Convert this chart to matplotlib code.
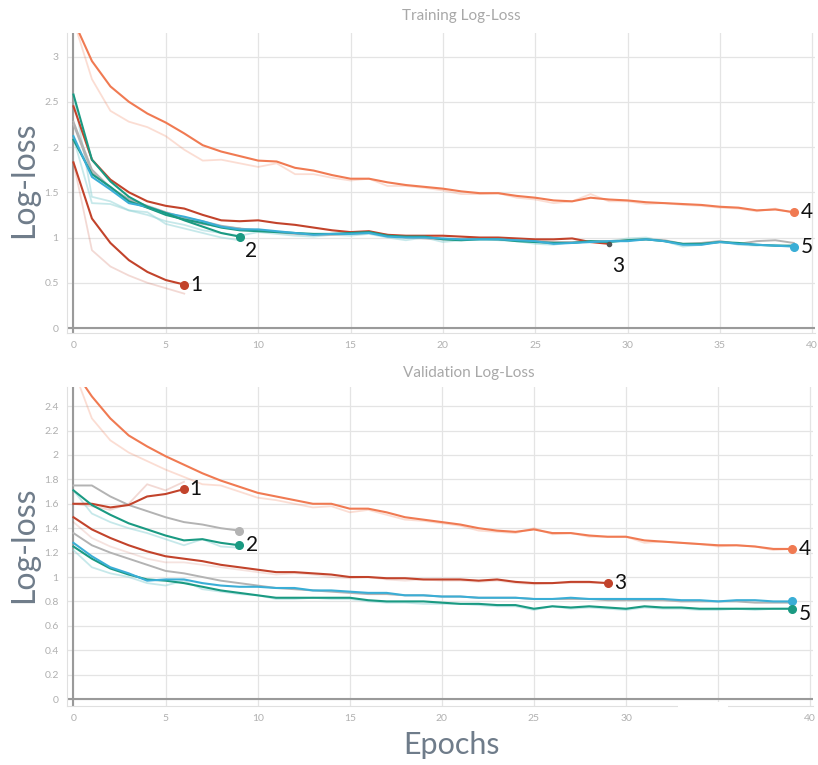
import numpy as np
import matplotlib
matplotlib.use("Agg")
import matplotlib.pyplot as plt
from matplotlib.patches import Rectangle

plt.rcParams['font.family'] = ['Lato', 'DejaVu Sans']

# ---- training log-loss (top panel) ----
t_run1 = [1.83, 1.21, 0.94, 0.75, 0.62, 0.53, 0.48]
t_run1_raw = [1.83, 0.86, 0.68, 0.58, 0.50, 0.44, 0.38]
t_run2_teal = [2.58, 1.86, 1.62, 1.45, 1.34, 1.27, 1.19, 1.12, 1.05, 1.01]
t_run2_gray = [2.28, 1.75, 1.55, 1.42, 1.33, 1.26, 1.20, 1.15, 1.12, 1.10]
t_run2_raw = [2.58, 1.45, 1.40, 1.30, 1.28, 1.15, 1.10, 1.05, 1.00, 0.97]
t_run3 = [2.45, 1.86, 1.64, 1.50, 1.40, 1.35, 1.32, 1.25, 1.19, 1.18,
          1.19, 1.16, 1.14, 1.11, 1.08, 1.06, 1.07, 1.03, 1.02, 1.02,
          1.02, 1.01, 1.00, 1.00, 0.99, 0.98, 0.98, 0.99, 0.95, 0.93]
t_run4 = [3.40, 2.95, 2.67, 2.50, 2.37, 2.27, 2.15, 2.02, 1.95, 1.90,
          1.85, 1.84, 1.77, 1.74, 1.69, 1.65, 1.65, 1.61, 1.58, 1.56,
          1.54, 1.51, 1.49, 1.49, 1.46, 1.44, 1.41, 1.40, 1.44, 1.42,
          1.41, 1.39, 1.38, 1.37, 1.36, 1.34, 1.33, 1.30, 1.31, 1.28]
t_run4_raw = [3.40, 2.75, 2.40, 2.28, 2.22, 2.12, 1.97, 1.85, 1.86, 1.82,
              1.78, 1.82, 1.70, 1.70, 1.66, 1.63, 1.65, 1.57, 1.57, 1.55,
              1.52, 1.48, 1.48, 1.49, 1.44, 1.42, 1.38, 1.40, 1.48, 1.40,
              1.40, 1.37, 1.38, 1.36, 1.35, 1.33, 1.32, 1.29, 1.32, 1.27]
t_run5_blue = [2.12, 1.67, 1.53, 1.38, 1.34, 1.27, 1.23, 1.18, 1.12, 1.09,
               1.09, 1.07, 1.05, 1.03, 1.04, 1.04, 1.05, 1.01, 1.00, 1.00,
               0.99, 0.98, 0.98, 0.98, 0.97, 0.96, 0.93, 0.94, 0.95, 0.96,
               0.96, 0.98, 0.96, 0.92, 0.92, 0.95, 0.93, 0.92, 0.91, 0.90]
t_run5_teal = [2.08, 1.70, 1.56, 1.40, 1.33, 1.25, 1.20, 1.16, 1.11, 1.08,
               1.07, 1.06, 1.05, 1.04, 1.04, 1.05, 1.06, 1.02, 1.01, 1.01,
               0.98, 0.97, 0.98, 0.98, 0.96, 0.95, 0.94, 0.94, 0.96, 0.95,
               0.97, 0.98, 0.96, 0.93, 0.93, 0.95, 0.94, 0.92, 0.91, 0.91]
t_run5_gray = [2.25, 1.72, 1.55, 1.42, 1.35, 1.28, 1.22, 1.18, 1.13, 1.10,
               1.08, 1.06, 1.04, 1.03, 1.03, 1.04, 1.05, 1.03, 1.00, 0.99,
               0.98, 0.98, 0.99, 0.98, 0.97, 0.96, 0.95, 0.95, 0.96, 0.96,
               0.97, 0.98, 0.97, 0.93, 0.94, 0.96, 0.93, 0.96, 0.97, 0.94]
t_run5_raw = [2.10, 1.38, 1.37, 1.30, 1.25, 1.18, 1.14, 1.08, 1.05, 1.02,
              1.06, 1.04, 1.02, 1.01, 1.03, 1.02, 1.04, 1.00, 0.97, 1.00,
              0.95, 0.97, 0.99, 0.97, 0.96, 0.93, 0.92, 0.95, 0.96, 0.96,
              0.99, 1.00, 0.96, 0.90, 0.92, 0.96, 0.92, 0.91, 0.92, 0.90]

# ---- validation log-loss (bottom panel) ----
v_run1 = [1.60, 1.60, 1.57, 1.59, 1.66, 1.68, 1.72]
v_run1_raw = [1.60, 1.58, 1.55, 1.60, 1.76, 1.71, 1.78]
v_run2_gray = [1.75, 1.75, 1.66, 1.59, 1.54, 1.49, 1.45, 1.43, 1.40, 1.38]
v_run2_teal = [1.71, 1.59, 1.51, 1.44, 1.39, 1.34, 1.30, 1.31, 1.28, 1.26]
v_run2_raw = [1.71, 1.52, 1.45, 1.40, 1.36, 1.31, 1.26, 1.31, 1.25, 1.24]
v_run3 = [1.49, 1.39, 1.32, 1.26, 1.21, 1.17, 1.15, 1.13, 1.10, 1.08,
          1.06, 1.04, 1.04, 1.03, 1.02, 1.00, 1.00, 0.99, 0.99, 0.98,
          0.98, 0.98, 0.97, 0.98, 0.96, 0.95, 0.95, 0.96, 0.96, 0.95]
v_run3_raw = [1.45, 1.32, 1.25, 1.20, 1.15, 1.12, 1.12, 1.10, 1.08, 1.06,
              1.04, 1.02, 1.03, 1.02, 1.00, 0.99, 1.00, 0.98, 0.97, 0.98,
              0.97, 0.97, 0.96, 0.97, 0.95, 0.94, 0.95, 0.95, 0.95, 0.95]
v_run4 = [2.70, 2.48, 2.30, 2.16, 2.07, 1.99, 1.92, 1.85, 1.79, 1.74,
          1.69, 1.66, 1.63, 1.60, 1.60, 1.56, 1.56, 1.53, 1.49, 1.47,
          1.45, 1.43, 1.40, 1.38, 1.37, 1.39, 1.36, 1.36, 1.34, 1.33,
          1.33, 1.30, 1.29, 1.28, 1.27, 1.26, 1.26, 1.25, 1.23, 1.23]
v_run4_raw = [2.70, 2.30, 2.12, 2.02, 1.95, 1.88, 1.82, 1.76, 1.75, 1.70,
              1.65, 1.63, 1.60, 1.57, 1.58, 1.53, 1.55, 1.51, 1.47, 1.46,
              1.44, 1.42, 1.38, 1.37, 1.36, 1.40, 1.35, 1.36, 1.33, 1.33,
              1.33, 1.28, 1.29, 1.28, 1.27, 1.25, 1.26, 1.25, 1.22, 1.23]
v_run5_gray = [1.36, 1.26, 1.20, 1.15, 1.10, 1.05, 1.03, 1.00, 0.97, 0.95,
               0.93, 0.91, 0.90, 0.89, 0.88, 0.87, 0.86, 0.86, 0.85, 0.85,
               0.84, 0.84, 0.83, 0.83, 0.83, 0.82, 0.82, 0.82, 0.82, 0.81,
               0.81, 0.81, 0.81, 0.80, 0.80, 0.80, 0.80, 0.79, 0.79, 0.79]
v_run5_blue = [1.28, 1.17, 1.08, 1.03, 0.97, 0.98, 0.98, 0.95, 0.93, 0.92,
               0.92, 0.91, 0.91, 0.89, 0.89, 0.88, 0.87, 0.87, 0.85, 0.85,
               0.84, 0.84, 0.83, 0.83, 0.83, 0.82, 0.82, 0.83, 0.82, 0.82,
               0.82, 0.82, 0.82, 0.81, 0.81, 0.80, 0.81, 0.81, 0.80, 0.80]
v_run5_teal = [1.25, 1.15, 1.07, 1.02, 0.98, 0.97, 0.95, 0.92, 0.89, 0.87,
               0.85, 0.83, 0.83, 0.83, 0.83, 0.83, 0.81, 0.80, 0.80, 0.80,
               0.79, 0.78, 0.78, 0.77, 0.77, 0.74, 0.76, 0.75, 0.76, 0.75,
               0.74, 0.76, 0.75, 0.75, 0.74, 0.74, 0.74, 0.74, 0.74, 0.74]
v_run5_raw = [1.22, 1.08, 1.03, 1.00, 0.95, 0.93, 0.97, 0.90, 0.88, 0.86,
              0.85, 0.82, 0.82, 0.83, 0.82, 0.82, 0.80, 0.79, 0.79, 0.78,
              0.78, 0.78, 0.77, 0.76, 0.76, 0.73, 0.76, 0.74, 0.75, 0.74,
              0.73, 0.75, 0.74, 0.74, 0.73, 0.73, 0.74, 0.73, 0.74, 0.74]

ORANGE = "#f07a52"
DARKRED = "#c2432b"
TEAL = "#1a9a82"
BLUE = "#3aaed6"
GRAY = "#b3b3b3"
CYAN_RAW = "#8fd3d6"


def line(ax, y, color, lw=1.5, alpha=1.0, z=3):
    ax.plot(np.arange(len(y)), y, color=color, lw=lw, alpha=alpha, zorder=z,
            solid_joinstyle='round')


def end_label(ax, y, color, text, dx, dy):
    x = len(y) - 1
    ax.plot(x, y[-1], 'o', color=color, ms=5.5, zorder=6)
    ax.annotate(text, (x, y[-1]), xytext=(dx, dy), textcoords='offset points',
                fontsize=15, color='#111111', va='center', ha='left',
                annotation_clip=False, zorder=7)


def style(ax, ylim, yticks):
    ax.set_xlim(-0.35, 40.15)
    ax.set_ylim(*ylim)
    ax.set_xticks(range(0, 41, 5))
    ax.set_yticks(yticks)
    ax.set_yticklabels(['%g' % v for v in yticks])
    ax.grid(True, color='#e4e4e4', lw=0.9)
    ax.set_axisbelow(True)
    for s in ax.spines.values():
        s.set_visible(False)
    ax.spines['left'].set_visible(True)
    ax.spines['bottom'].set_visible(True)
    ax.spines['left'].set_color('#e0e0e0')
    ax.spines['bottom'].set_color('#e0e0e0')
    ax.axvline(0, color='#9a9a9a', lw=1.5, zorder=2)
    ax.axhline(0, color='#9a9a9a', lw=1.5, zorder=2)
    ax.tick_params(length=0, labelsize=7.5, labelcolor='#b0b0b0', pad=6)


fig = plt.figure(figsize=(8.18, 7.65), dpi=100)
ax1 = fig.add_axes([67 / 818, 1 - 333 / 765, 748 / 818, 300 / 765])
ax2 = fig.add_axes([67 / 818, 1 - 706 / 765, 746 / 818, 319 / 765])

# top panel
style(ax1, (-0.055, 3.26), [0, 0.5, 1, 1.5, 2, 2.5, 3])
line(ax1, t_run4_raw, ORANGE, lw=1.3, alpha=0.25, z=2)
line(ax1, t_run1_raw, DARKRED, lw=1.3, alpha=0.2, z=2)
line(ax1, t_run2_raw, CYAN_RAW, lw=1.3, alpha=0.5, z=2)
line(ax1, t_run5_raw, CYAN_RAW, lw=1.3, alpha=0.5, z=2)
line(ax1, t_run5_gray, GRAY, lw=1.4)
line(ax1, t_run2_gray, GRAY, lw=1.4)
line(ax1, t_run3, DARKRED)
line(ax1, t_run4, ORANGE)
line(ax1, t_run1, DARKRED)
line(ax1, t_run5_teal, TEAL)
line(ax1, t_run5_blue, BLUE)
line(ax1, t_run2_teal, TEAL)
end_label(ax1, t_run1, DARKRED, '1', 4, 0)
end_label(ax1, t_run2_teal, TEAL, '2', 4, -10)
ax1.plot(len(t_run3) - 1, t_run3[-1], 'o', color='#555555', ms=3, zorder=6)
ax1.annotate('3', (len(t_run3) - 1, t_run3[-1]), xytext=(2, -16),
             textcoords='offset points', fontsize=15, color='#111111',
             va='center', ha='left', annotation_clip=False)
end_label(ax1, t_run4, ORANGE, '4', 5, 0)
end_label(ax1, t_run5_blue, BLUE, '5', 5, 0)

# bottom panel
style(ax2, (-0.057, 2.557), [0, 0.2, 0.4, 0.6, 0.8, 1, 1.2, 1.4, 1.6, 1.8, 2, 2.2, 2.4])
line(ax2, v_run4_raw, ORANGE, lw=1.3, alpha=0.25, z=2)
line(ax2, v_run1_raw, DARKRED, lw=1.3, alpha=0.2, z=2)
line(ax2, v_run3_raw, DARKRED, lw=1.3, alpha=0.15, z=2)
line(ax2, v_run2_raw, CYAN_RAW, lw=1.3, alpha=0.5, z=2)
line(ax2, v_run5_raw, CYAN_RAW, lw=1.3, alpha=0.5, z=2)
line(ax2, v_run5_gray, GRAY, lw=1.4)
line(ax2, v_run2_gray, GRAY, lw=1.4)
line(ax2, v_run4, ORANGE)
line(ax2, v_run3, DARKRED)
line(ax2, v_run1, DARKRED)
line(ax2, v_run2_teal, TEAL)
line(ax2, v_run5_teal, TEAL)
line(ax2, v_run5_blue, BLUE)
ax2.plot(len(v_run2_gray) - 1, v_run2_gray[-1], 'o', color=GRAY, ms=5.5, zorder=6)
end_label(ax2, v_run1, DARKRED, '1', 4, 0)
end_label(ax2, v_run2_teal, TEAL, '2', 5, 0)
end_label(ax2, v_run3, DARKRED, '3', 5, 0)
end_label(ax2, v_run4, ORANGE, '4', 5, 0)
ax2.plot(len(v_run5_blue) - 1, v_run5_blue[-1], 'o', color=BLUE, ms=5.5, zorder=6)
end_label(ax2, v_run5_teal, TEAL, '5', 5, -4)

# titles and labels
fig.text(461 / 818, 1 - 16 / 765, 'Training Log-Loss', ha='center', va='center',
         fontsize=11, color='#a8a8a8')
fig.text(469 / 818, 1 - 373 / 765, 'Validation Log-Loss', ha='center', va='center',
         fontsize=11, color='#a8a8a8')
fig.text(24 / 818, 1 - 180 / 765, 'Log-loss', rotation=90, ha='center', va='center',
         fontsize=23, color='#6f7c8a')
fig.text(24 / 818, 1 - 545 / 765, 'Log-loss', rotation=90, ha='center', va='center',
         fontsize=23, color='#6f7c8a')
fig.text(452 / 818, 1 - 745 / 765, 'Epochs', ha='center', va='center',
         fontsize=22, color='#6f7c8a')

# white patch hiding the "35" label at the bottom (as in the original image)
fig.patches.append(Rectangle((678 / 818, 1 - 742 / 765), 50 / 818, 40 / 765,
                             transform=fig.transFigure, facecolor='white',
                             edgecolor='none', zorder=5))

fig.savefig('out.png', dpi=100)
